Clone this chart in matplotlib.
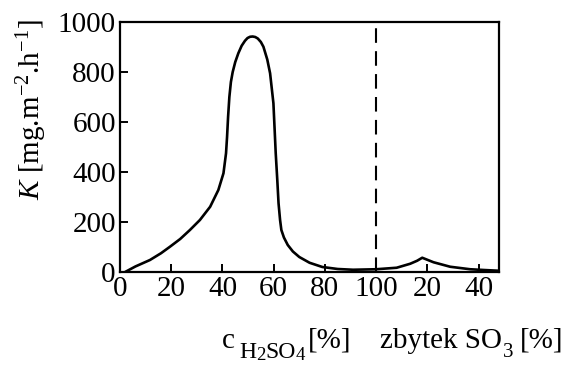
import matplotlib
matplotlib.use("Agg")
import matplotlib.pyplot as plt

# data (x: 0-100 = c H2SO4 %, 100-150 = 100 + excess SO3 %)
x_vals = [2, 6, 11.7, 16, 19.5, 23.5, 27.3, 31.2, 35.2, 38.4, 40.4, 41.4, 41.8, 42.2, 42.7, 43.3,
          44, 45, 46.2, 47.5, 48.8, 49.8, 50.8, 51.8, 52.8, 53.8, 55, 56, 57.5, 58.6, 59.9, 60.8,
          61.4, 61.9, 62.5, 63, 64, 65.5, 67.5, 70, 74, 79, 85, 91, 100, 108, 113.3, 116, 118,
          122.4, 128.9, 136.7, 142, 148]
y_vals = [0, 22, 48, 75, 101, 132, 168, 208, 261, 328, 395, 475, 540, 620, 700, 760,
          800, 840, 875, 905, 925, 936, 941, 942, 940, 934, 920, 901, 850, 795, 675, 475,
          370, 275, 208, 168, 138, 108, 82, 60, 37, 20, 12, 9, 11, 17, 33, 45, 57,
          39, 21, 11, 8, 5]
x_ticks = [0, 20, 40, 60, 80, 100, 120, 140]
x_tick_labels = ["0", "20", "40", "60", "80", "100", "20", "40"]
y_ticks = [0, 200, 400, 600, 800, 1000]
divider_x = 100

plt.rcParams['font.family'] = ['Liberation Serif', 'DejaVu Serif']
plt.rcParams['mathtext.fontset'] = 'custom'
plt.rcParams['mathtext.rm'] = 'Liberation Serif'
plt.rcParams['mathtext.it'] = 'Liberation Serif:italic'

W, H = 573, 365
fig = plt.figure(figsize=(W / 100, H / 100), dpi=100)
ax = fig.add_axes([0.2094, 0.2548, 0.6616, 0.6849])

ax.plot(x_vals, y_vals, color='black', lw=1.9, solid_joinstyle='round', solid_capstyle='round')
ax.axvline(divider_x, color='black', lw=1.5, dashes=(7, 4))

ax.set_xlim(0, 148)
ax.set_ylim(0, 1000)
ax.set_xticks(x_ticks)
ax.set_xticklabels(x_tick_labels)
ax.set_yticks(y_ticks)
ax.tick_params(direction='in', length=6, width=1.4, labelsize=21, colors='black')
ax.tick_params(axis='y', pad=3)
ax.tick_params(axis='x', pad=3)
for s in ax.spines.values():
    s.set_linewidth(1.6)

fig.text(0.055, 0.70, r"$K$ [mg.m$^{-2}$.h$^{-1}$]", fontsize=21, rotation=90,
         ha='center', va='center')

renderer = fig.canvas.get_renderer()


def put(s, x_px, base_px, size):
    t = fig.text(x_px / W, 1 - base_px / H, s, fontsize=size, ha='left', va='baseline')
    bb = t.get_window_extent(renderer=renderer)
    return bb.x1


def chain(pieces, x_px):
    for s, dy, size in pieces:
        x_px = put(s, x_px, dy, size)
    return x_px


# c_{H2SO4}[%]
put("c", 222, 348, 21)
xe = chain([("H", 358, 17), ("2", 360, 13.5), ("SO", 358, 17), ("4", 360, 13.5)], 239)
put("[%]", max(308, xe + 1), 348, 21)

# zbytek SO3[%]
xe = put("zbytek SO", 380, 348, 21)
put("3", xe + 1, 357, 15)
put("[%]", 520, 348, 21)

fig.savefig("out.png", dpi=100)
